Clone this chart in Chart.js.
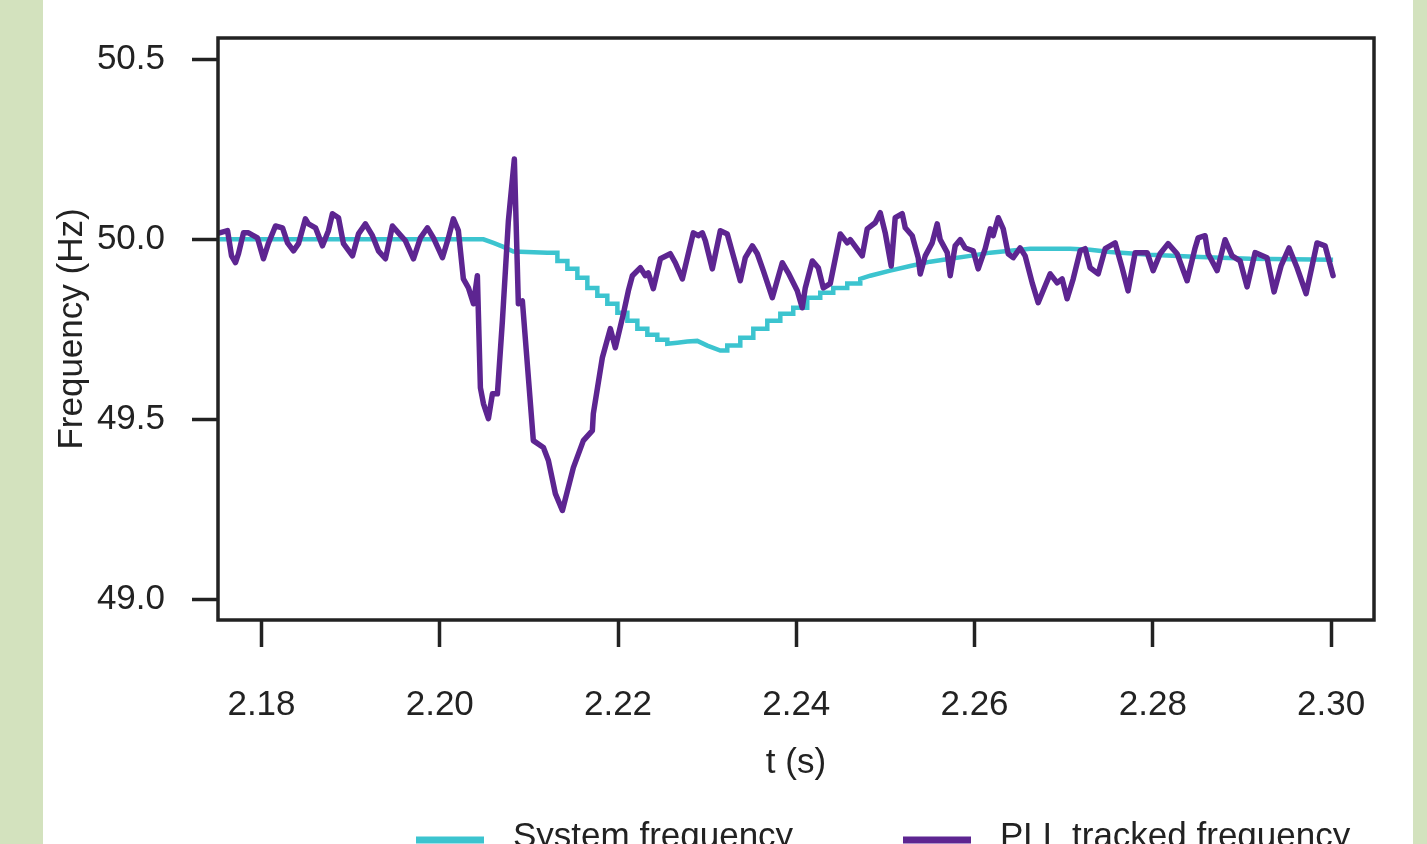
<!DOCTYPE html>
<html>
<head>
<meta charset="utf-8">
<title>System frequency vs PLL tracked frequency</title>
<script src="https://cdn.jsdelivr.net/npm/chart.js@4.4.1/dist/chart.umd.min.js"></script>
<style>
  html, body { margin: 0; padding: 0; overflow: hidden; }
  body { width: 1427px; height: 844px; background: #d3e2be; position: relative; }
  #panel { position: absolute; left: 43px; top: 0; width: 1370px; height: 844px; background: #fff; }
  #chart { position: absolute; left: 0; top: 0; }
</style>
</head>
<body>
<div id="panel"></div>
<canvas id="chart" width="1427" height="844"></canvas>
<script>
/* ---- Data ---- */

const seriesLabels = ['System frequency', 'PLL tracked frequency'];
const xTitle = 't (s)';
const yTitle = 'Frequency (Hz)';
const xTicks = [2.18, 2.20, 2.22, 2.24, 2.26, 2.28, 2.30];
const yTicks = [49.0, 49.5, 50.0, 50.5];

// system frequency; the held steps of the fall and the rise are kept as corner points
const sysTime = [
  2.17529, 2.20490, 2.20602, 2.20714, 2.20826,
  2.21207, 2.21320, 2.21320, 2.21432, 2.21432, 2.21544, 2.21544, 2.21656, 2.21656, 2.21768,
  2.21768, 2.21880, 2.21880, 2.21993, 2.21993, 2.22105, 2.22105, 2.22217, 2.22217, 2.22329,
  2.22329, 2.22441, 2.22441, 2.22553, 2.22553,
  2.22665, 2.22778, 2.22890, 2.23002, 2.23148,
  2.23226, 2.23226, 2.23372, 2.23372, 2.23518, 2.23518, 2.23675, 2.23675, 2.23821, 2.23821,
  2.23966, 2.23966, 2.24123, 2.24123, 2.24269, 2.24269, 2.24415, 2.24415, 2.24572, 2.24572,
  2.24718, 2.24718,
  2.24830, 2.25054, 2.25279, 2.25503, 2.25727, 2.25951, 2.26176, 2.26400, 2.26624, 2.26849,
  2.27073, 2.27297, 2.27522, 2.27970, 2.28531, 2.29092, 2.30023
];
const sysFreq = [
  50.000, 50.000, 49.990, 49.979, 49.966,
  49.963, 49.963, 49.940, 49.940, 49.918, 49.918, 49.893, 49.893, 49.865, 49.865,
  49.843, 49.843, 49.821, 49.821, 49.796, 49.796, 49.774, 49.774, 49.752, 49.752,
  49.735, 49.735, 49.721, 49.721, 49.710,
  49.713, 49.716, 49.718, 49.705, 49.691,
  49.691, 49.705, 49.705, 49.727, 49.727, 49.752, 49.752, 49.774, 49.774, 49.793,
  49.793, 49.810, 49.810, 49.838, 49.838, 49.852, 49.852, 49.865, 49.865, 49.877,
  49.877, 49.890,
  49.899, 49.913, 49.926, 49.938, 49.946, 49.954, 49.963, 49.968, 49.974, 49.974,
  49.974, 49.971, 49.965, 49.957, 49.951, 49.946, 49.943
];

// PLL tracked frequency
const pllTime = [
  2.17529, 2.17619, 2.17664, 2.17708, 2.17742, 2.17798, 2.17854, 2.17955, 2.18022, 2.18079,
  2.18157, 2.18236, 2.18292, 2.18359, 2.18415, 2.18493, 2.18527, 2.18606, 2.18684, 2.18751,
  2.18796, 2.18864, 2.18920, 2.19021, 2.19088, 2.19166, 2.19245, 2.19312, 2.19391, 2.19469,
  2.19536, 2.19615, 2.19705, 2.19783, 2.19862, 2.19929, 2.20030, 2.20097, 2.20153, 2.20209,
  2.20265, 2.20322, 2.20378, 2.20422, 2.20456, 2.20490, 2.20546, 2.20591, 2.20647, 2.20703,
  2.20770, 2.20837, 2.20882, 2.20927, 2.21050, 2.21163, 2.21219, 2.21297, 2.21376, 2.21499,
  2.21611, 2.21712, 2.21723, 2.21824, 2.21914, 2.21970, 2.22060, 2.22116, 2.22161, 2.22251,
  2.22307, 2.22340, 2.22396, 2.22475, 2.22587, 2.22643, 2.22722, 2.22789, 2.22845, 2.22901,
  2.22946, 2.22980, 2.23058, 2.23148, 2.23226, 2.23294, 2.23372, 2.23428, 2.23507, 2.23563,
  2.23630, 2.23731, 2.23843, 2.23910, 2.24011, 2.24067, 2.24101, 2.24180, 2.24247, 2.24303,
  2.24381, 2.24494, 2.24572, 2.24606, 2.24740, 2.24796, 2.24886, 2.24942, 2.24998, 2.25065,
  2.25110, 2.25189, 2.25223, 2.25301, 2.25368, 2.25391, 2.25447, 2.25525, 2.25581, 2.25615,
  2.25694, 2.25727, 2.25783, 2.25839, 2.25895, 2.25985, 2.26041, 2.26120, 2.26176, 2.26209,
  2.26266, 2.26322, 2.26378, 2.26434, 2.26512, 2.26568, 2.26647, 2.26714, 2.26793, 2.26849,
  2.26927, 2.26983, 2.27039, 2.27107, 2.27185, 2.27241, 2.27297, 2.27387, 2.27466, 2.27578,
  2.27656, 2.27723, 2.27802, 2.27937, 2.28004, 2.28082, 2.28172, 2.28273, 2.28385, 2.28475,
  2.28509, 2.28587, 2.28621, 2.28722, 2.28811, 2.28890, 2.28980, 2.29058, 2.29148, 2.29282,
  2.29361, 2.29439, 2.29529, 2.29619, 2.29720, 2.29843, 2.29933, 2.30023
];
const pllFreq = [
  50.018, 50.024, 49.954, 49.935, 49.960, 50.018, 50.018, 50.004, 49.946, 49.990,
  50.037, 50.032, 49.990, 49.968, 49.988, 50.057, 50.043, 50.032, 49.982, 50.024,
  50.071, 50.060, 49.988, 49.954, 50.015, 50.043, 50.010, 49.968, 49.946, 50.037,
  50.018, 49.996, 49.946, 50.004, 50.032, 50.004, 49.949, 50.004, 50.057, 50.024,
  49.890, 49.865, 49.821, 49.899, 49.588, 49.544, 49.502, 49.571, 49.571, 49.774,
  50.051, 50.223, 49.821, 49.829, 49.441, 49.422, 49.386, 49.294, 49.247, 49.366,
  49.441, 49.469, 49.516, 49.671, 49.752, 49.699, 49.793, 49.857, 49.899, 49.921,
  49.899, 49.907, 49.863, 49.946, 49.960, 49.935, 49.890, 49.960, 50.018, 50.010,
  50.018, 49.996, 49.918, 50.024, 50.015, 49.954, 49.885, 49.949, 49.982, 49.960,
  49.913, 49.838, 49.935, 49.907, 49.857, 49.810, 49.865, 49.940, 49.921, 49.865,
  49.877, 50.015, 49.990, 49.999, 49.954, 50.029, 50.046, 50.074, 50.018, 49.926,
  50.060, 50.071, 50.032, 50.010, 49.949, 49.904, 49.954, 49.990, 50.043, 49.999,
  49.963, 49.899, 49.982, 49.999, 49.976, 49.968, 49.918, 49.974, 50.029, 50.010,
  50.060, 50.029, 49.960, 49.949, 49.976, 49.954, 49.879, 49.824, 49.871, 49.904,
  49.879, 49.890, 49.835, 49.890, 49.968, 49.974, 49.921, 49.904, 49.974, 49.990,
  49.921, 49.857, 49.963, 49.963, 49.913, 49.960, 49.988, 49.960, 49.885, 49.976,
  50.004, 50.010, 49.960, 49.913, 49.999, 49.954, 49.940, 49.868, 49.963, 49.949,
  49.854, 49.926, 49.976, 49.921, 49.849, 49.990, 49.982, 49.899
];

/* ---- Style ---- */

const FONT_FAMILY = '"Liberation Sans", Arial, Helvetica, sans-serif';
const INK = '#222222';
const CYAN = 'rgb(60, 196, 207)';
const PURPLE = 'rgb(93, 37, 145)';

function toPoints(xs, ys) {
  return xs.map((x, i) => ({ x: x, y: ys[i] }));
}

// box round the plot region, like R's bty="o"
const plotBox = {
  id: 'plotBox',
  afterDatasetsDraw(chart) {
    const { ctx, chartArea: a } = chart;
    ctx.save();
    ctx.strokeStyle = INK;
    ctx.lineWidth = 3.5;
    ctx.strokeRect(a.left, a.top, a.right - a.left, a.bottom - a.top);
    ctx.restore();
  }
};

// legend under the axis title (partly cut by the page edge, as in the source)
const bottomLegend = {
  id: 'bottomLegend',
  afterDraw(chart) {
    const { ctx } = chart;
    const slots = [416, 903];
    ctx.save();
    ctx.font = '35px ' + FONT_FAMILY;
    ctx.fillStyle = INK;
    ctx.textBaseline = 'alphabetic';
    chart.data.datasets.forEach((ds, i) => {
      const x = slots[i];
      ctx.strokeStyle = ds.borderColor;
      ctx.lineWidth = 7;
      ctx.beginPath();
      ctx.moveTo(x, 840);
      ctx.lineTo(x + 68, 840);
      ctx.stroke();
      ctx.fillText(ds.label, x + 97, 847);
    });
    ctx.restore();
  }
};

Chart.defaults.font.family = FONT_FAMILY;
Chart.defaults.font.size = 35;
Chart.defaults.color = INK;

new Chart(document.getElementById('chart'), {
  type: 'line',
  data: {
    datasets: [
      {
        label: seriesLabels[0],
        data: toPoints(sysTime, sysFreq),
        borderColor: CYAN,
        borderWidth: 4.5,
        borderJoinStyle: 'miter',
        tension: 0,
        pointRadius: 0,
        order: 1
      },
      {
        label: seriesLabels[1],
        data: toPoints(pllTime, pllFreq),
        borderColor: PURPLE,
        borderWidth: 5.5,
        borderJoinStyle: 'round',
        borderCapStyle: 'round',
        tension: 0,
        pointRadius: 0,
        order: 0
      }
    ]
  },
  options: {
    responsive: false,
    animation: false,
    events: [],
    layout: { padding: { left: 0, top: 38, right: 53, bottom: 0 } },
    plugins: {
      legend: { display: false },
      tooltip: { enabled: false }
    },
    scales: {
      x: {
        type: 'linear',
        min: 2.17512,
        max: 2.30482,
        afterBuildTicks: (axis) => { axis.ticks = xTicks.map(v => ({ value: v })); },
        afterFit: (s) => { s.height = 224; s.paddingLeft = 0; s.paddingRight = 0; },
        border: { display: false },
        grid: {
          drawOnChartArea: false,
          drawTicks: true,
          tickLength: 27,
          tickWidth: 3.5,
          tickColor: INK
        },
        ticks: {
          padding: 37,
          maxRotation: 0,
          autoSkip: false,
          color: INK,
          font: { size: 35 },
          callback: (v) => Number(v).toFixed(2)
        },
        title: {
          display: true,
          text: xTitle,
          color: INK,
          font: { size: 35 },
          padding: { top: 0, bottom: 60 }
        }
      },
      y: {
        type: 'linear',
        min: 48.943,
        max: 50.559,
        afterBuildTicks: (axis) => { axis.ticks = yTicks.map(v => ({ value: v })); },
        afterFit: (s) => { s.width = 218; s.paddingTop = 0; s.paddingBottom = 0; },
        border: { display: false },
        grid: {
          drawOnChartArea: false,
          drawTicks: true,
          tickLength: 26,
          tickWidth: 3.5,
          tickColor: INK
        },
        ticks: {
          padding: 27,
          autoSkip: false,
          color: INK,
          font: { size: 35 },
          callback: (v) => Number(v).toFixed(1)
        },
        title: {
          display: true,
          text: yTitle,
          color: INK,
          font: { size: 35 },
          padding: { top: 51, bottom: 0 }
        }
      }
    }
  },
  plugins: [plotBox, bottomLegend]
});
</script>
</body>
</html>
